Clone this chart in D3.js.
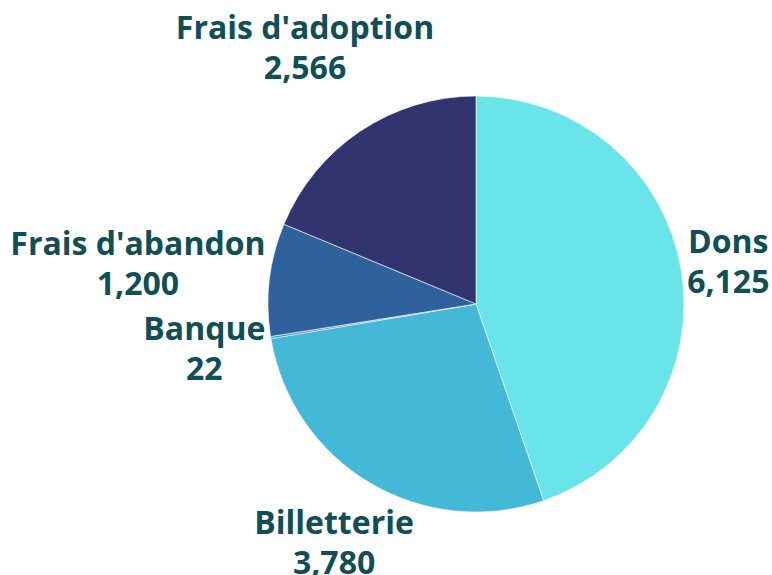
<!DOCTYPE html>
<html>
<head>
<meta charset="utf-8">
<script src="https://cdn.jsdelivr.net/npm/d3@7"></script>
<style>
  body { margin: 0; background: #fff; }
  svg { display: block; }
  .lbl { font-family: "Open Sans", "Noto Sans", sans-serif; font-weight: 700; fill: #0f4f55; }
</style>
</head>
<body>
<div id="chart"></div>
<script>
// slice data
const labels = ["Dons", "Billetterie", "Banque", "Frais d'abandon", "Frais d'adoption"];
const values = [6125, 3780, 22, 1200, 2566];
const colors = ["#69e4e8", "#43b8d7", "#3a8cc0", "#2f619d", "#31346e"];

const width = 772;
const height = 575;
const cx = 476, cy = 304, radius = 208;
const fontSize = 32, lineH = 40, capH = 23;

const svg = d3.select('#chart')
    .append('svg')
    .attr('width', width)
    .attr('height', height);

const g = svg.append('g').attr('transform', `translate(${cx},${cy})`);

const pie = d3.pie().sort(null).value(d => d.value);
const arcs = pie(labels.map((l, i) => ({ label: l, value: values[i], color: colors[i] })));
const arc = d3.arc().innerRadius(0).outerRadius(radius);

// slices
g.selectAll('path')
    .data(arcs)
    .join('path')
    .attr('d', arc)
    .attr('fill', d => d.data.color)
    .attr('stroke', '#fff')
    .attr('stroke-width', 0.6);

const fmt = d3.format(',');

// labels: box pushed out along the slice mid-angle
const lbl = g.selectAll('text.lbl')
    .data(arcs)
    .join('text')
    .attr('class', 'lbl')
    .attr('font-size', fontSize)
    .attr('text-anchor', 'middle');

lbl.append('tspan').attr('class', 'l1').text(d => d.data.label);
lbl.append('tspan').attr('class', 'l2').text(d => fmt(d.data.value));

lbl.each(function(d) {
    const t = d3.select(this);
    const w = Math.max(t.select('.l1').node().getComputedTextLength(),
                       t.select('.l2').node().getComputedTextLength());
    const hw = w / 2, hh = (lineH + capH) / 2;
    const a = (d.startAngle + d.endAngle) / 2;
    const ux = Math.sin(a), uy = -Math.cos(a);
    const dist = radius + hw * Math.abs(ux) + hh * Math.abs(uy) + 2;
    const bx = ux * dist, by = uy * dist;
    const y1 = by - hh + capH;
    t.select('.l1').attr('x', bx).attr('y', y1);
    t.select('.l2').attr('x', bx).attr('y', y1 + lineH);
});
</script>
</body>
</html>
